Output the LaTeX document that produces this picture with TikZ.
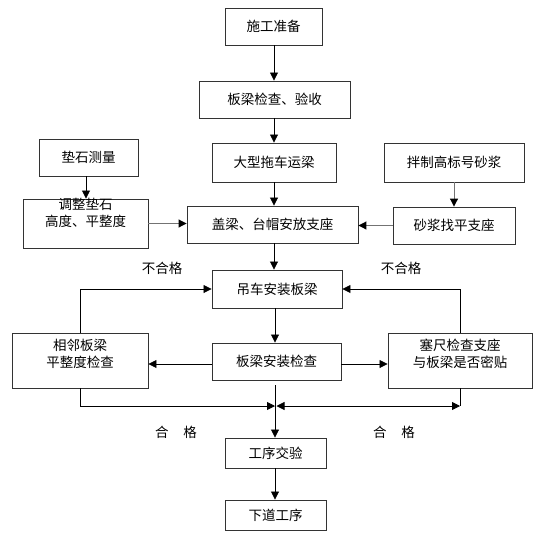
\documentclass[tikz,border=0pt]{standalone}
\usepackage{fontspec}
\setmainfont{Noto Sans CJK SC}
\usetikzlibrary{arrows.meta}
\begin{document}
\begin{tikzpicture}[x=1pt,y=-1pt,
  box/.style={draw=black!80,line width=0.9pt,inner sep=0pt,align=center,font=\fontsize{13.5}{16.5}\selectfont},
  lbl/.style={inner sep=0pt,align=center,font=\fontsize{13.5}{16.5}\selectfont},
  conn/.style={draw=black,line width=0.8pt,-{Triangle[length=8pt,width=8pt]}},
  gconn/.style={draw=black!55,line width=1pt,-{Triangle[length=8pt,width=8pt,color=black]}},
  plain/.style={draw=black,line width=0.8pt}]
\useasboundingbox (0,0) rectangle (554,541);
\node[box,minimum width=97pt,minimum height=37pt] (prep) at (273.5,26.5) {施工准备};
\node[box,minimum width=151pt,minimum height=37pt] (check1) at (274.5,99.5) {板梁检查、验收};
\node[box,minimum width=124pt,minimum height=39pt] (trans) at (274,162.5) {大型拖车运梁};
\node[box,minimum width=99pt,minimum height=37pt] (stone) at (88.5,157.5) {垫石测量};
\node[box,minimum width=140pt,minimum height=39pt] (mortar) at (454,162.5) {拌制高标号砂浆};
\node[box,minimum width=125pt,minimum height=49pt] (adjust) at (85.5,223.5) {};
\node[lbl] (adjusttext) at (85.5,213) {调整垫石\\高度、平整度};
\node[box,minimum width=171pt,minimum height=37pt] (seat) at (272.5,224.5) {盖梁、台帽安放支座};
\node[box,minimum width=122pt,minimum height=37pt] (level) at (454,225.5) {砂浆找平支座};
\node[box,minimum width=130pt,minimum height=38pt] (crane) at (277,289) {吊车安装板梁};
\node[box,minimum width=129pt,minimum height=37pt] (inst) at (276.5,361.5) {板梁安装检查};
\node[box,minimum width=136pt,minimum height=55pt] (adj) at (80,360.5) {};
\node[lbl] (adjtext) at (80,354) {相邻板梁\\平整度检查};
\node[box,minimum width=144pt,minimum height=55pt] (feeler) at (460,360.5) {};
\node[lbl] (feelertext) at (460,354) {塞尺检查支座\\与板梁是否密贴};
\node[box,minimum width=101pt,minimum height=30pt] (hand) at (275.5,453) {工序交验};
\node[box,minimum width=101pt,minimum height=30pt] (next) at (275.5,515) {下道工序};
\node[lbl] (ng1) at (162,268) {不合格};
\node[lbl] (ng2) at (401,268) {不合格};
\node[lbl] (ok1) at (176,432) {合\hspace{1.1em}格};
\node[lbl] (ok2) at (394,432) {合\hspace{1.1em}格};
\coordinate (j) at (275,406);
% main flow
\draw[conn] (prep.south -| 274,0) -- (check1.north -| 274,0);
\draw[conn] (check1.south -| 274,0) -- (trans.north -| 274,0);
\draw[conn] (trans.south -| 274,0) -- (seat.north -| 274,0);
\draw[conn] (seat.south -| 274,0) -- (crane.north -| 274,0);
\draw[conn] (crane.south -| 275,0) -- (inst.north -| 275,0);
\draw[conn,shorten <=5pt] (inst.south -| 275,0) -- (hand.north -| 275,0);
\draw[conn] (hand.south -| 275,0) -- (next.north -| 275,0);
% side inputs
\draw[conn] (stone.south -| 86,0) -- (adjust.north -| 86,0);
\draw[gconn] (mortar.south) -- (level.north);
\draw[gconn] (adjust.east) -- (adjust.east -| seat.west);
\draw[gconn] (level.west) -- (level.west -| seat.east);
% inspection branches
\draw[conn] (inst.west |- 0,364) -- (adj.east |- 0,364);
\draw[conn] (inst.east |- 0,364) -- (feeler.west |- 0,364);
\draw[conn] (adj.north) |- (crane.west);
\draw[conn] (feeler.north) |- (crane.east);
\draw[conn] (adj.south) |- (j);
\draw[plain] (feeler.south) -- (feeler.south |- j);
\draw[draw=black,line width=0.8pt,{Triangle[length=8pt,width=8pt]}-{Triangle[length=8pt,width=8pt]}] ([xshift=1.5pt]j) -- (feeler.south |- j);
\end{tikzpicture}
\end{document}
